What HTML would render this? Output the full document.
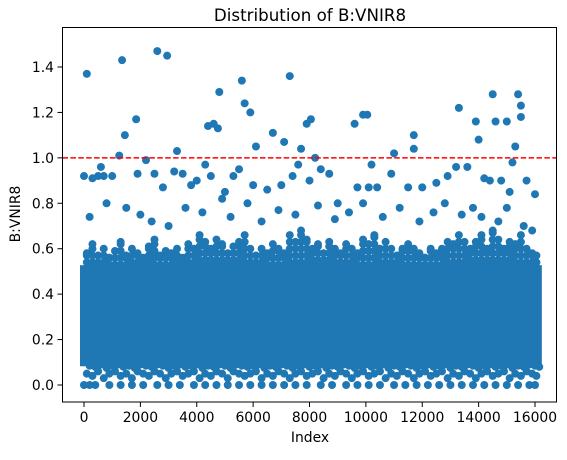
<!DOCTYPE html>
<html><head><meta charset="utf-8"><style>
body{margin:0;background:#fff;font-family:"Liberation Sans","DejaVu Sans",sans-serif}
svg text{font-family:"DejaVu Sans","Liberation Sans",sans-serif}
</style></head><body>
<svg id="c" width="567" height="455" xmlns="http://www.w3.org/2000/svg">
<defs><clipPath id="clip"><rect x="62.5" y="27.5" width="494" height="374.5"/></clipPath></defs>
<rect width="567" height="455" fill="#fff"/>
<g id="plot" clip-path="url(#clip)"></g>
<rect x="62.5" y="27.5" width="494" height="374.5" fill="none" stroke="#000" stroke-width="1"/>
<g id="axes"></g>
<text x="310" y="21" text-anchor="middle" font-size="16.7">Distribution of B:VNIR8</text>
<text x="310" y="442" text-anchor="middle" font-size="13.9">Index</text>
<text transform="translate(20,214) rotate(-90)" text-anchor="middle" font-size="13.9">B:VNIR8</text>
</svg>
<script>
const binStarts=[0,800,1600,2400,3200,4000,4800,5600,6400,7200,8000,8800,9600,10400,11200,12000,12800,13600,14400,15200];
const bandLow=[0.1,0.1,0.1,0.1,0.1,0.1,0.1,0.1,0.1,0.1,0.1,0.1,0.1,0.1,0.1,0.1,0.1,0.1,0.1,0.1];
const bandHigh=[0.51,0.5,0.51,0.5,0.51,0.52,0.52,0.51,0.5,0.51,0.52,0.51,0.5,0.51,0.5,0.5,0.51,0.52,0.52,0.51];
const zeroX=[0,200,400,900,1300,1700,2100,2600,3000,3400,3900,4300,4700,5100,5500,5900,6300,6700,7100,7500,7900,8400,8800,9300,9700,10100,10500,11000,11400,11800,12200,12600,13000,13400,13800,14200,14600,15000,15400,15800,16000];
const sparseX=[100,300,500,700,900,1100,1300,1500,1700,1900,2100,2300,2500,2700,2900,3100,3300,3500,3700,3900,4100,4300,4500,4700,4900,5100,5300,5500,5700,5900,6100,6300,6500,6700,6900,7100,7300,7500,7700,7900,8100,8300,8500,8700,8900,9100,9300,9500,9700,9900,10100,10300,10500,10700,10900,11100,11300,11500,11700,11900,12100,12300,12500,12700,12900,13100,13300,13500,13700,13900,14100,14300,14500,14700,14900,15100,15300,15500,15700,15900,16050];
const sparseHigh=[0.58,0.62,0.57,0.6,0.56,0.59,0.63,0.57,0.6,0.58,0.56,0.61,0.64,0.57,0.59,0.58,0.6,0.56,0.62,0.6,0.66,0.63,0.6,0.64,0.62,0.58,0.61,0.63,0.66,0.6,0.57,0.6,0.58,0.62,0.6,0.58,0.66,0.63,0.68,0.64,0.6,0.62,0.58,0.63,0.6,0.58,0.62,0.6,0.58,0.64,0.62,0.66,0.6,0.63,0.6,0.57,0.6,0.62,0.6,0.58,0.56,0.6,0.58,0.6,0.63,0.62,0.66,0.63,0.6,0.63,0.66,0.6,0.68,0.64,0.6,0.63,0.62,0.66,0.6,0.58,0.57];
const sparseLow=[0.05,0.04,0.06,0.03,0.05,0.06,0.04,0.05,0.03,0.06,0.05,0.04,0.06,0.05,0.03,0.05,0.06,0.04,0.05,0.06,0.03,0.05,0.04,0.06,0.05,0.03,0.06,0.05,0.04,0.05,0.06,0.03,0.05,0.04,0.06,0.05,0.03,0.05,0.06,0.04,0.05,0.06,0.03,0.05,0.04,0.06,0.05,0.03,0.05,0.06,0.04,0.05,0.06,0.03,0.05,0.04,0.06,0.05,0.03,0.05,0.06,0.04,0.05,0.06,0.03,0.05,0.04,0.06,0.05,0.03,0.05,0.06,0.04,0.05,0.06,0.03,0.05,0.04,0.06,0.05,0.04];
const outliers=[[100,1.37],[1350,1.43],[2600,1.47],[2950,1.45],[4800,1.29],[5600,1.34],[7300,1.36],[13300,1.22],[14500,1.28],[15400,1.28],[15500,1.23],[15500,1.18],[15000,1.16],[1850,1.17],[1450,1.1],[4400,1.14],[4600,1.15],[4750,1.13],[5700,1.24],[5900,1.2],[6100,1.05],[6700,1.11],[7100,1.07],[7700,1.04],[7900,1.15],[8050,1.17],[8200,1.0],[9600,1.15],[9900,1.19],[10050,1.19],[11000,1.02],[11700,1.1],[11700,1.04],[13900,1.16],[14000,1.08],[14600,1.16],[15300,1.05],[15200,0.98],[3300,1.03],[1250,1.01],[2200,0.99],[4300,0.97],[10200,0.97],[600,0.96],[0,0.92],[300,0.91],[500,0.92],[700,0.92],[1000,0.92],[1900,0.93],[2500,0.93],[2800,0.87],[3200,0.94],[3500,0.93],[3800,0.88],[4000,0.9],[4500,0.92],[5000,0.85],[5300,0.92],[5500,0.95],[6000,0.88],[6500,0.86],[7000,0.88],[7400,0.92],[7600,0.97],[8000,0.9],[8400,0.95],[8700,0.93],[9000,0.8],[9700,0.87],[10100,0.87],[10400,0.87],[10900,0.93],[11500,0.87],[12000,0.87],[12500,0.89],[12900,0.92],[13200,0.96],[13600,0.96],[14200,0.91],[14400,0.9],[14800,0.9],[15100,0.85],[15700,0.9],[16000,0.84],[200,0.74],[800,0.8],[1500,0.78],[2000,0.75],[2400,0.72],[3000,0.7],[3600,0.78],[4200,0.76],[4900,0.82],[5200,0.74],[5800,0.8],[6300,0.72],[6900,0.77],[7500,0.75],[8300,0.79],[8900,0.73],[9400,0.76],[9900,0.8],[10600,0.74],[11200,0.78],[11900,0.72],[12400,0.76],[12800,0.8],[13400,0.75],[13800,0.78],[14100,0.74],[14700,0.72],[15000,0.78],[15600,0.7],[15900,0.68]];
const xTicks=[0,2000,4000,6000,8000,10000,12000,14000,16000];
const yTicks=[0,0.2,0.4,0.6,0.8,1.0,1.2,1.4];
const yTickLabels=["0.0","0.2","0.4","0.6","0.8","1.0","1.2","1.4"];
const threshold=1.0;

const NS="http://www.w3.org/2000/svg";
const X=v=>84+v*(451/16000);
const Y=v=>385-v*(318/1.4);
const C="#1f77b4", R=4;
const plot=document.getElementById('plot'), axes=document.getElementById('axes');
function mk(t,a,p){const e=document.createElementNS(NS,t);for(const k in a)e.setAttribute(k,a[k]);p.appendChild(e);return e;}
function dot(x,y){const e=mk('circle',{cx:X(x),cy:Y(y),r:R,fill:C},plot);

}
binStarts.forEach((b,i)=>{
  const end=i<binStarts.length-1?binStarts[i+1]:16100;
  const r=mk('rect',{x:X(b)-R,y:Y(bandHigh[i])-R,width:X(end)-X(b)+2*R,height:Y(bandLow[i])-Y(bandHigh[i])+2*R,fill:C},plot);
  
  
});
sparseX.forEach((x,i)=>{
  const base=bandHigh[Math.min(19,Math.floor(x/800))];
  for(let v=base;v<=sparseHigh[i];v+=0.03)dot(x,v);
  dot(x,sparseHigh[i]);
  dot(x,sparseLow[i]);
  dot(x+100,(sparseLow[i]+0.1)/2+0.01);
});
zeroX.forEach(x=>dot(x,0));
outliers.forEach(p=>dot(p[0],p[1]));
const th=mk('line',{x1:62.5,x2:556.5,y1:Y(threshold),y2:Y(threshold),stroke:'#ff0000','stroke-width':1.5,'stroke-dasharray':'5.5,2.4'},plot);


xTicks.forEach(t=>{
  const l=mk('line',{x1:X(t),x2:X(t),y1:402,y2:407,stroke:'#000'},axes);
  
  
  const tx=mk('text',{x:X(t),y:422,'text-anchor':'middle','font-size':13.9},axes);tx.textContent=t;
  
  
});
yTicks.forEach((t,i)=>{
  const l=mk('line',{x1:57.5,x2:62.5,y1:Y(t),y2:Y(t),stroke:'#000'},axes);
  
  
  const tx=mk('text',{x:54,y:Y(t)+5,'text-anchor':'end','font-size':13.9},axes);tx.textContent=yTickLabels[i];
  
  
});
</script>
</body></html>
